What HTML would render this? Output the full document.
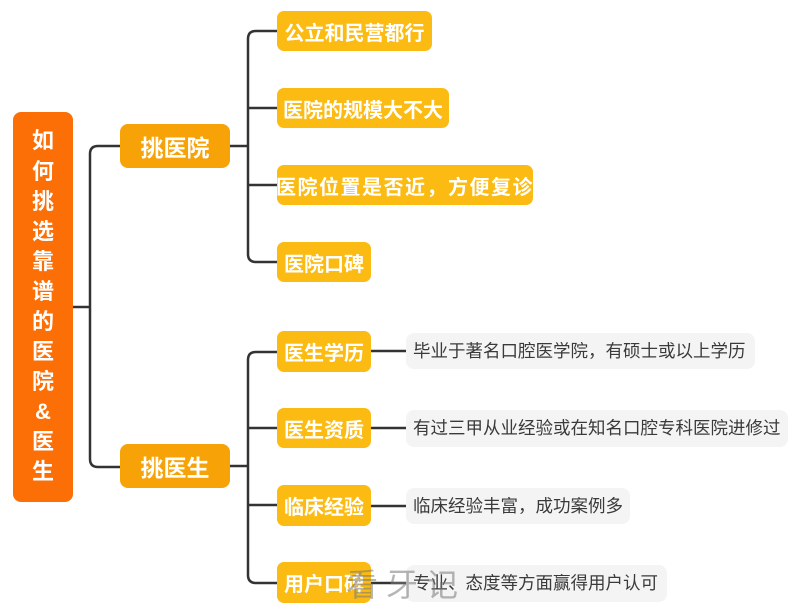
<!DOCTYPE html>
<html><head><meta charset="utf-8"><style>
html,body{margin:0;padding:0;background:#fff;}
body{width:800px;height:616px;position:relative;overflow:hidden;font-family:"Liberation Sans","Noto Sans CJK SC",sans-serif;}
.b{position:absolute;box-sizing:border-box;color:#fff;font-weight:bold;display:flex;align-items:center;justify-content:center;white-space:nowrap;}
.root{left:13px;top:112px;width:60px;height:390px;background:#FB6F06;border-radius:8px;font-size:22px;line-height:30.1px;text-align:center;flex-direction:column;}
.br{width:110px;height:44px;left:120px;background:#F7A307;border-radius:8px;font-size:23px;}
.l2{left:277px;height:40px;background:#FBBB12;border-radius:7px;font-size:20px;}
.lf{position:absolute;left:406px;height:36px;background:#F4F4F4;border-radius:8px;color:#3a3a3a;font-size:17.5px;line-height:36px;padding-left:7px;box-sizing:border-box;white-space:nowrap;}
svg{position:absolute;left:0;top:0;}
.wm{position:absolute;left:346px;top:560px;font-size:32px;color:rgba(120,120,120,0.55);letter-spacing:8px;font-family:"Liberation Sans","Noto Sans CJK SC",sans-serif;}
</style></head><body>
<svg width="800" height="616" viewBox="0 0 800 616">
<g fill="none" stroke="#333" stroke-width="2.5">
<path d="M73 307 H90"/>
<path d="M120 146 H98 Q90 146 90 154 V459 Q90 467 98 467 H120"/>
<path d="M230 146 H248"/>
<path d="M277 31 H256 Q248 31 248 39 V254 Q248 262 256 262 H277"/>
<path d="M248 108 H277"/>
<path d="M248 185 H277"/>
<path d="M230 466 H248"/>
<path d="M277 352 H256 Q248 352 248 360 V575 Q248 583 256 583 H277"/>
<path d="M248 428 H277"/>
<path d="M248 505 H277"/>
<path d="M371 351 H406"/>
<path d="M371 428 H406"/>
<path d="M371 506 H406"/>
<path d="M371 583 H406"/>
</g>
</svg>
<div class="b root"><div>如<br>何<br>挑<br>选<br>靠<br>谱<br>的<br>医<br>院<br>&amp;<br>医<br>生</div></div>
<div class="b br" style="top:124px;">挑医院</div>
<div class="b br" style="top:444px;">挑医生</div>

<div class="b l2" style="top:11px;width:155px;">公立和民营都行</div>
<div class="b l2" style="top:88px;width:172px;">医院的规模大不大</div>
<div class="b l2" style="top:165px;width:256px;letter-spacing:1.5px;">医院位置是否近，方便复诊</div>
<div class="b l2" style="top:242px;width:94px;">医院口碑</div>

<div class="b l2" style="top:331px;width:94px;height:41px;">医生学历</div>
<div class="b l2" style="top:408px;width:94px;">医生资质</div>
<div class="b l2" style="top:485px;width:94px;height:41px;">临床经验</div>
<div class="b l2" style="top:562px;width:94px;height:41px;">用户口碑</div>

<div class="lf" style="top:333px;width:349px;">毕业于著名口腔医学院，有硕士或以上学历</div>
<div class="lf" style="top:410px;width:382px;height:37px;">有过三甲从业经验或在知名口腔专科医院进修过</div>
<div class="lf" style="top:488px;width:224px;">临床经验丰富，成功案例多</div>
<div class="lf" style="top:565px;width:261px;height:37px;">专业、态度等方面赢得用户认可</div>

<div class="wm">看牙记</div>
</body></html>
